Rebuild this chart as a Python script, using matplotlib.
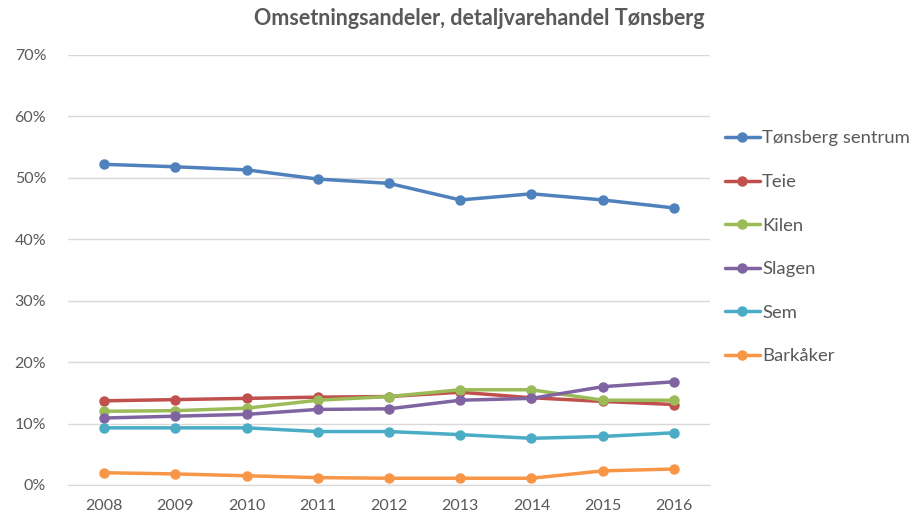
import matplotlib
matplotlib.use('Agg')
import matplotlib.pyplot as plt
from matplotlib.ticker import PercentFormatter

plt.rcParams['font.family'] = ['Lato', 'DejaVu Sans']

years = ['2008', '2009', '2010', '2011', '2012', '2013', '2014', '2015', '2016']

# shares in percent
tonsberg = [52.2, 51.8, 51.3, 49.8, 49.1, 46.4, 47.4, 46.4, 45.1]
teie = [13.7, 13.9, 14.1, 14.3, 14.4, 15.1, 14.2, 13.6, 13.1]
kilen = [12.0, 12.1, 12.5, 13.8, 14.4, 15.5, 15.5, 13.8, 13.8]
slagen = [10.9, 11.2, 11.5, 12.3, 12.4, 13.8, 14.1, 16.0, 16.8]
sem = [9.3, 9.3, 9.3, 8.7, 8.7, 8.2, 7.6, 7.9, 8.5]
barkaker = [2.0, 1.8, 1.5, 1.2, 1.1, 1.1, 1.1, 2.3, 2.6]

series = [
    ('Tønsberg sentrum', tonsberg, '#4F81BD'),
    ('Teie', teie, '#C0504D'),
    ('Kilen', kilen, '#9BBB59'),
    ('Slagen', slagen, '#8064A2'),
    ('Sem', sem, '#4BACC6'),
    ('Barkåker', barkaker, '#F79646'),
]

grey = '#595959'

fig = plt.figure(figsize=(9.22, 5.22), dpi=100)
ax = fig.add_axes([0.0742, 0.0709, 0.6954, 0.8238])

x = list(range(len(years)))
for name, vals, col in series:
    ax.plot(x, vals, color=col, lw=2.5, marker='o', ms=6.5,
            solid_capstyle='round', label=name)

ax.set_xlim(-0.5, len(years) - 0.5)
ax.set_ylim(0, 70)
ax.set_yticks(range(0, 71, 10))
ax.yaxis.set_major_formatter(PercentFormatter(decimals=0))
ax.set_xticks(x)
ax.set_xticklabels(years)
ax.tick_params(length=0, labelsize=11.5, labelcolor=grey)
ax.tick_params(axis='y', pad=16)
ax.tick_params(axis='x', pad=10)
ax.grid(axis='y', color='#D9D9D9', lw=1)
ax.set_axisbelow(True)
for s in ['top', 'right', 'left']:
    ax.spines[s].set_visible(False)
ax.spines['bottom'].set_color('#D9D9D9')

fig.text(0.52, 0.965, 'Omsetningsandeler, detaljvarehandel Tønsberg',
         ha='center', va='center', fontsize=15.5, fontweight='bold', color=grey)

leg = ax.legend(loc='upper left', bbox_to_anchor=(0.786, 0.75),
                bbox_transform=fig.transFigure, frameon=False,
                fontsize=13.3, labelspacing=1.49, handlelength=1.9,
                handletextpad=0.12, borderpad=0, borderaxespad=0)
for t in leg.get_texts():
    t.set_color(grey)

fig.savefig('out.png', dpi=100)
